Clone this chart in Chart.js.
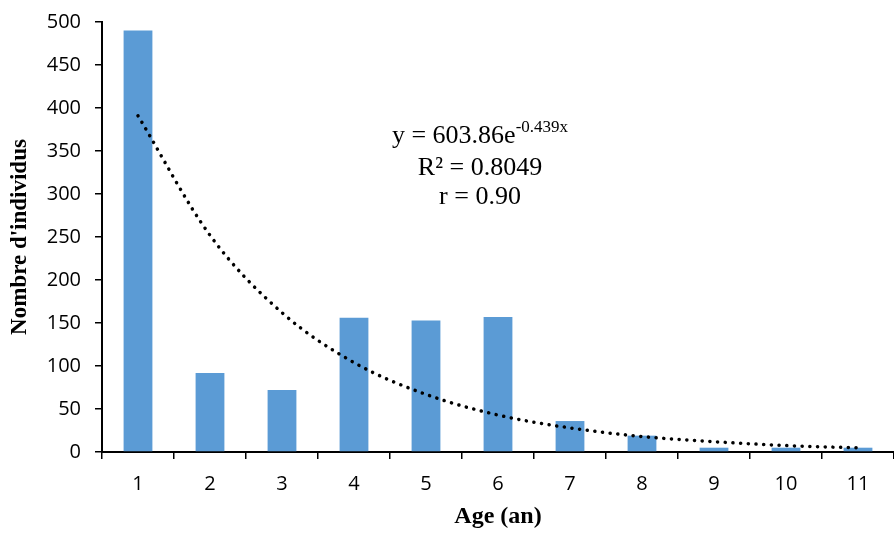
<!DOCTYPE html>
<html>
<head>
<meta charset="utf-8">
<script src="https://cdn.jsdelivr.net/npm/chart.js@4"></script>
<style>
html, body { margin: 0; padding: 0; background: #fff; }
#wrap { width: 894px; height: 535px; position: relative; }
</style>
</head>
<body>
<div id="wrap"><canvas id="ageChart"></canvas></div>
<script>
// values
const ages = ["1", "2", "3", "4", "5", "6", "7", "8", "9", "10", "11"];
const individus = [490, 92, 72, 156, 153, 157, 36, 19, 5, 5, 5];
// exponential trend line
const trend = [391, 252, 162, 104, 67, 43, 28, 18, 12, 7.5, 4.8];
const yTicks = [0, 50, 100, 150, 200, 250, 300, 350, 400, 450, 500];

const equationPlugin = {
  id: "equation",
  afterDraw(chart) {
    const ctx = chart.ctx;
    ctx.save();
    ctx.fillStyle = "#000";
    ctx.textBaseline = "alphabetic";
    const base = "y = 603.86e";
    const sup = "-0.439x";
    ctx.font = "26px 'Liberation Serif'";
    const w1 = ctx.measureText(base).width;
    ctx.font = "17px 'Liberation Serif'";
    const w2 = ctx.measureText(sup).width;
    const cx = 480;
    const x0 = cx - (w1 + w2) / 2;
    ctx.textAlign = "left";
    ctx.font = "26px 'Liberation Serif'";
    ctx.fillText(base, x0, 143);
    ctx.font = "17px 'Liberation Serif'";
    ctx.fillText(sup, x0 + w1, 132);
    ctx.font = "26px 'Liberation Serif'";
    ctx.textAlign = "center";
    ctx.fillText("R² = 0.8049", cx, 175);
    ctx.fillText("r = 0.90", cx, 204);
    ctx.restore();
  }
};

const ctx = document.getElementById("ageChart").getContext("2d");
new Chart(ctx, {
  type: "bar",
  data: {
    labels: ages,
    datasets: [{
      type: "line",
      data: trend,
      borderColor: "#000",
      borderWidth: 3.5,
      borderDash: [0.1, 7.6],
      borderCapStyle: "round",
      pointRadius: 0,
      cubicInterpolationMode: "monotone",
      fill: false
    }, {
      data: individus,
      backgroundColor: "#5b9bd5",
      categoryPercentage: 0.4,
      barPercentage: 1
    }]
  },
  plugins: [equationPlugin],
  options: {
    responsive: true,
    maintainAspectRatio: false,
    animation: false,
    layout: { padding: { top: 22, right: 0, left: 0, bottom: 0 } },
    plugins: {
      legend: { display: false },
      tooltip: { enabled: false }
    },
    scales: {
      x: {
        grid: { display: true, drawOnChartArea: false, offset: true, color: "#000", tickLength: 7, lineWidth: 1.5 },
        border: { color: "#000", width: 2 },
        ticks: { color: "#000", font: { family: "'Open Sans'", size: 20 }, padding: 13 },
        title: {
          display: true, text: "Age (an)", color: "#000",
          font: { family: "'Liberation Serif'", size: 24, weight: "bold" }, padding: { top: 10 }
        },
        afterFit(scale) { scale.height = 83; scale.paddingLeft = 0; scale.paddingRight = 0; }
      },
      y: {
        min: 0,
        max: 500,
        afterBuildTicks(scale) { scale.ticks = yTicks.map(v => ({ value: v })); },
        grid: { display: true, drawOnChartArea: false, color: "#000", tickLength: 7, lineWidth: 1.5 },
        border: { color: "#000", width: 2 },
        ticks: { color: "#000", font: { family: "'Open Sans'", size: 20 }, padding: 14 },
        title: {
          display: true, text: "Nombre d'individus", color: "#000",
          font: { family: "'Liberation Serif'", size: 23, weight: "bold" }, padding: { top: 6, bottom: 0 }
        },
        afterFit(scale) { scale.width = 102; scale.paddingTop = 0; scale.paddingBottom = 0; }
      }
    }
  }
});
</script>
</body>
</html>
